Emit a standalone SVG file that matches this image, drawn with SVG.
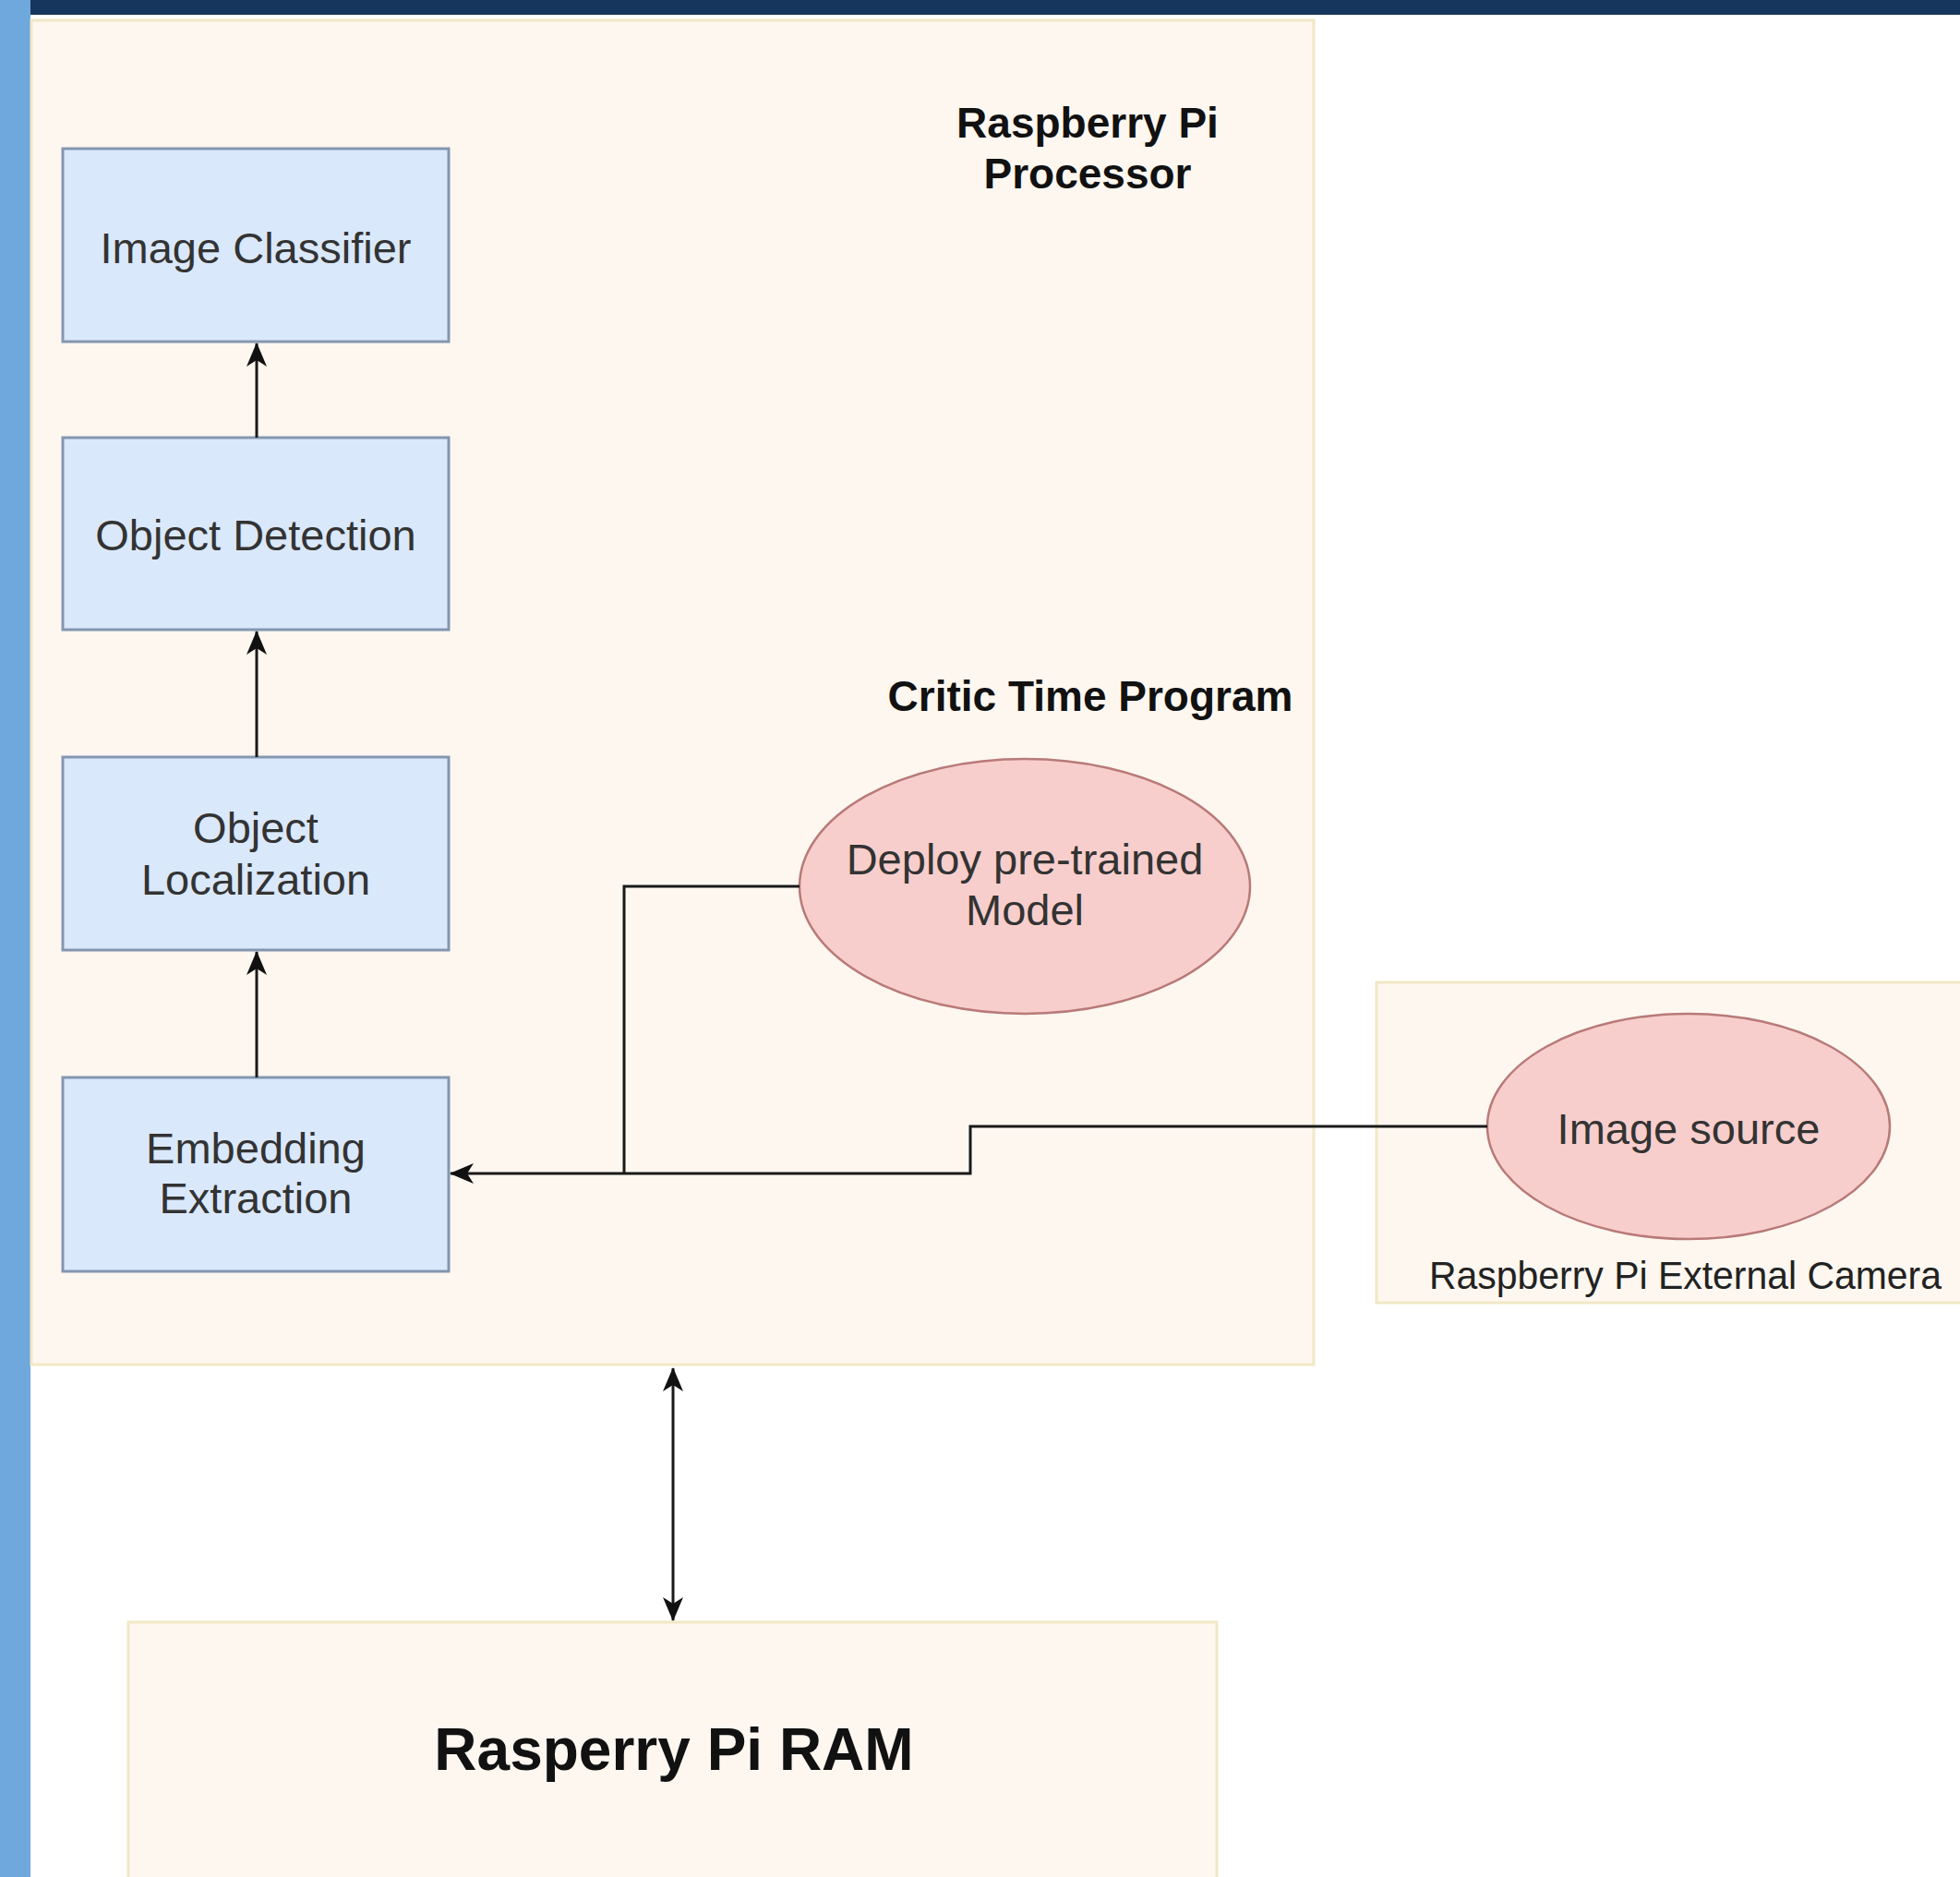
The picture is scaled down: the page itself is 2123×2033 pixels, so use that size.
<svg xmlns="http://www.w3.org/2000/svg" width="2123" height="2033" viewBox="0 0 2123 2033">
<style>
.cont{fill:#fdf7f0;stroke:#f2e8c6;stroke-width:3}
.box{fill:#dae8fc;stroke:#8496b0;stroke-width:3}
.ell{fill:#f8cecc;stroke:#b87a78;stroke-width:2.5}
.t{font-family:"Liberation Sans",Arial,sans-serif;font-size:47px;fill:#333;text-anchor:middle}
.b{font-family:"Liberation Sans",Arial,sans-serif;font-weight:bold;font-size:46px;fill:#111;text-anchor:middle}
.c{fill:none;stroke:#1a1a1a;stroke-width:3}
</style>
<defs>
<marker id="ah" viewBox="0 0 26 22" refX="25" refY="11" markerWidth="26" markerHeight="22" markerUnits="userSpaceOnUse" orient="auto-start-reverse">
<path d="M0,0 L26,11 L0,22 L7,11 Z" fill="#111"/>
</marker>
</defs>
<rect x="0" y="0" width="2123" height="2033" fill="#ffffff"/>
<rect x="0" y="0" width="2123" height="16" fill="#17365d"/>
<rect x="0" y="0" width="33" height="2033" fill="#6fa8dc"/>

<g id="processor">
<rect class="cont" x="34" y="22" width="1389" height="1456"/>
<text class="b" x="1178" y="149">Raspberry Pi</text>
<text class="b" x="1178" y="204">Processor</text>
<text class="b" x="1181" y="770">Critic Time Program</text>
</g>
<g id="camera">
<rect class="cont" x="1491" y="1064" width="650" height="347"/>
<text x="1548" y="1396" font-family="Liberation Sans,Arial,sans-serif" font-size="42" fill="#222" textLength="555" lengthAdjust="spacingAndGlyphs">Raspberry Pi External Camera</text>
</g>
<g id="ram">
<rect class="cont" x="139" y="1757" width="1179" height="290"/>
<text class="b" x="730" y="1917" style="font-size:64px">Rasperry Pi RAM</text>
</g>
<g id="image-classifier">
<rect class="box" x="68" y="161" width="418" height="209"/>
<text class="t" x="277" y="285">Image Classifier</text>
</g>
<g id="object-detection">
<rect class="box" x="68" y="474" width="418" height="208"/>
<text class="t" x="277" y="596">Object Detection</text>
</g>
<g id="object-localization">
<rect class="box" x="68" y="820" width="418" height="209"/>
<text class="t" x="277" y="913">Object</text>
<text class="t" x="277" y="969">Localization</text>
</g>
<g id="embedding-extraction">
<rect class="box" x="68" y="1167" width="418" height="210"/>
<text class="t" x="277" y="1260">Embedding</text>
<text class="t" x="277" y="1314">Extraction</text>
</g>
<g id="deploy-model">
<ellipse class="ell" cx="1110" cy="960" rx="244" ry="138"/>
<text class="t" x="1110" y="947">Deploy pre-trained</text>
<text class="t" x="1110" y="1002">Model</text>
</g>
<g id="image-source">
<ellipse class="ell" cx="1829" cy="1220" rx="218" ry="122"/>
<text class="t" x="1829" y="1239">Image source</text>
</g>
<g id="connectors">
<line class="c" x1="278" y1="474" x2="278" y2="372" marker-end="url(#ah)"/>
<line class="c" x1="278" y1="820" x2="278" y2="684" marker-end="url(#ah)"/>
<line class="c" x1="278" y1="1167" x2="278" y2="1031" marker-end="url(#ah)"/>
<polyline class="c" points="1611,1220 1051,1220 1051,1271 488,1271" marker-end="url(#ah)"/>
<polyline class="c" points="866,960 676,960 676,1271"/>
<line class="c" x1="729" y1="1482" x2="729" y2="1755" stroke-width="2.5" marker-start="url(#ah)" marker-end="url(#ah)"/>
</g>
</svg>
